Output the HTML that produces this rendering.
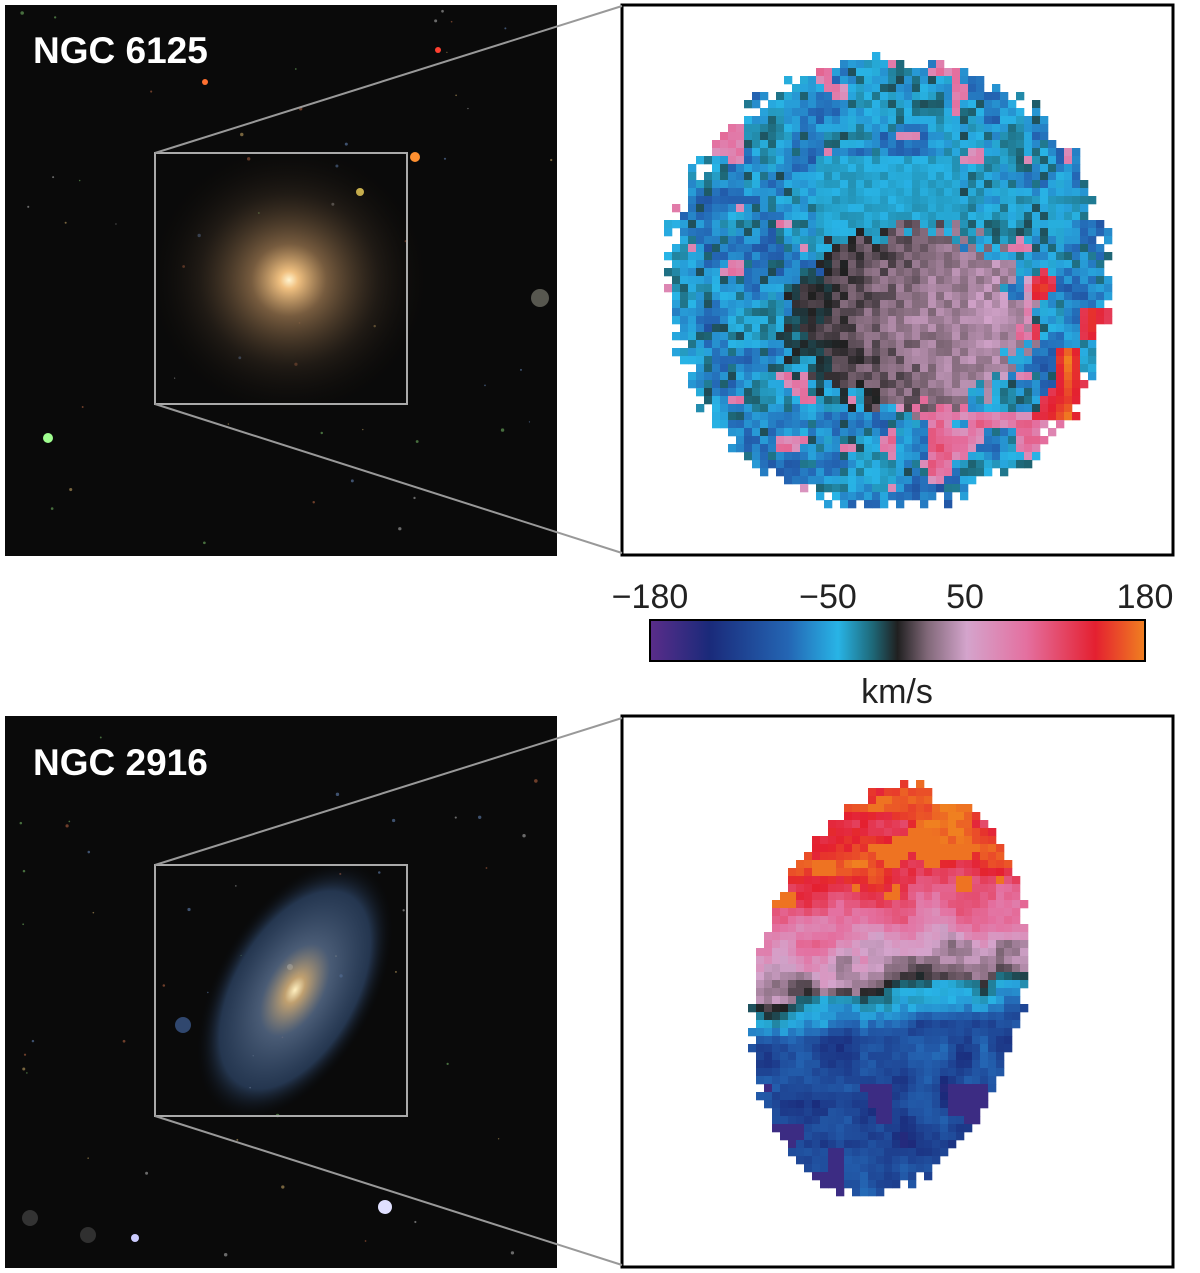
<!DOCTYPE html>
<html><head><meta charset="utf-8"><style>
html,body{margin:0;padding:0;background:#fff;width:1200px;height:1273px;overflow:hidden}
svg{display:block}
text{font-family:"Liberation Sans",sans-serif}
</style></head><body>
<svg id="s" width="1200" height="1273" xmlns="http://www.w3.org/2000/svg">
<defs>
<radialGradient id="ell" cx="0.5" cy="0.5" r="0.5">
<stop offset="0" stop-color="#fff4d0"/><stop offset="0.06" stop-color="#f0c080"/>
<stop offset="0.25" stop-color="#8a6a48" stop-opacity="0.85"/><stop offset="0.6" stop-color="#3a2e22" stop-opacity="0.45"/>
<stop offset="1" stop-color="#000" stop-opacity="0"/></radialGradient>
<radialGradient id="sp" cx="0.5" cy="0.5" r="0.5">
<stop offset="0" stop-color="#fff0c0"/><stop offset="0.1" stop-color="#c0a070"/>
<stop offset="0.35" stop-color="#5a7090" stop-opacity="0.8"/><stop offset="0.75" stop-color="#3a5a88" stop-opacity="0.55"/>
<stop offset="1" stop-color="#000" stop-opacity="0"/></radialGradient>
<linearGradient id="cb" x1="0" x2="1">
<stop offset="0" stop-color="#5a2d8a"/><stop offset="0.12" stop-color="#1a2a7a"/>
<stop offset="0.28" stop-color="#2466b4"/><stop offset="0.38" stop-color="#28b4e6"/>
<stop offset="0.45" stop-color="#1e6878"/><stop offset="0.5" stop-color="#202020"/>
<stop offset="0.56" stop-color="#806878"/><stop offset="0.64" stop-color="#d4a4cc"/>
<stop offset="0.76" stop-color="#e470a0"/><stop offset="0.9" stop-color="#e42030"/>
<stop offset="1" stop-color="#f08020"/></linearGradient>
</defs>
<rect x="5" y="5" width="552" height="551" fill="#0a0a0a"/>
<rect x="5" y="716" width="552" height="552" fill="#0a0a0a"/>
<g id="stars"></g>
<ellipse cx="289" cy="280" rx="150" ry="145" fill="url(#ell)"/>
<g transform="rotate(-60 295 990)"><ellipse cx="295" cy="990" rx="145" ry="80" fill="url(#sp)"/></g>
<rect x="622" y="5" width="551" height="550" fill="#fff" stroke="#000" stroke-width="3"/>
<rect x="622" y="716" width="551" height="551" fill="#fff" stroke="#000" stroke-width="3"/>
<g id="m1"></g><g id="m2"></g>
<rect x="155" y="153" width="252" height="251" fill="none" stroke="#aaa" stroke-width="2"/>
<rect x="155" y="865" width="252" height="251" fill="none" stroke="#aaa" stroke-width="2"/>
<g stroke="#999" stroke-width="2">
<line x1="155" y1="153" x2="622" y2="6"/><line x1="155" y1="404" x2="622" y2="553"/>
<line x1="155" y1="865" x2="622" y2="718"/><line x1="155" y1="1116" x2="622" y2="1265"/></g>
<text x="33" y="63" font-size="37" font-weight="bold" fill="#fff">NGC 6125</text>
<text x="33" y="775" font-size="37" font-weight="bold" fill="#fff">NGC 2916</text>
<rect x="650" y="620" width="495" height="41" fill="url(#cb)" stroke="#000" stroke-width="2"/>
<g font-size="34" fill="#222" text-anchor="middle">
<text x="650" y="608">−180</text><text x="828" y="608">−50</text>
<text x="965" y="608">50</text><text x="1145" y="608">180</text>
<text x="897" y="703">km/s</text></g>
</svg>
<script>
var seed=7;function r(){seed=(seed*16807)%2147483647;return seed/2147483647}
var st=[[0,[90,45,138]],[0.12,[26,42,122]],[0.28,[36,102,180]],[0.38,[40,180,230]],[0.45,[30,104,120]],[0.5,[32,32,32]],[0.56,[128,104,120]],[0.64,[212,164,204]],[0.76,[228,112,160]],[0.9,[228,32,48]],[1,[240,128,32]]];
function col(v){var t=Math.max(0,Math.min(1,(v+180)/360));for(var i=1;i<st.length;i++){if(t<=st[i][0]){var a=st[i-1],b=st[i],f=(t-a[0])/(b[0]-a[0]);return 'rgb('+[0,1,2].map(function(k){return Math.round(a[1][k]+(b[1][k]-a[1][k])*f)}).join(',')+')'}}return 'rgb(240,128,32)'}
function grid(n){var g=[];for(var i=0;i<n*n;i++)g.push(r()*2-1);return g}
function noise(g,n,x,y,sc){x/=sc;y/=sc;var i=Math.floor(x),j=Math.floor(y),fx=x-i,fy=y-j;function G(a,b){return g[((b%n+n)%n)*n+((a%n+n)%n)]}
var a=G(i,j)+(G(i+1,j)-G(i,j))*fx,b=G(i,j+1)+(G(i+1,j+1)-G(i,j+1))*fx;return a+(b-a)*fy}
var NS='http://www.w3.org/2000/svg';
function rect(g,x,y,w,h,c){var e=document.createElementNS(NS,'rect');e.setAttribute('x',x);e.setAttribute('y',y);e.setAttribute('width',w+0.3);e.setAttribute('height',h+0.3);e.setAttribute('fill',c);g.appendChild(e)}
var s=8,g1=document.getElementById('m1'),N1=grid(40),N2=grid(40);
for(var y=52;y<502;y+=s)for(var x=664;x<1108;x+=s){var dx=(x-885)/220,dy=(y-278)/225,d=Math.sqrt(dx*dx+dy*dy);if(d>1+(r()-0.5)*0.08)continue;
var n1=noise(N1,40,x,y,22),n2=noise(N2,40,x+300,y,22)+((x>860&&y>340)?0.25:0)+((x<760&&y>330)?0.15:0);
var v=-55+n1*35+(r()-0.5)*30;
if(r()<0.12)v=-25+r()*15;
if(n2>0.5)v=50+n2*50+(r()-0.5)*30;
if(x>1030&&y>220&&y<420&&n2>0.25)v=110+n2*60;
var rc=Math.sqrt(Math.pow((x-905)/120,2)+Math.pow((y-315)/90,2));
if(rc<1+(r()-0.5)*0.3){v=10+(1-rc)*15+(x-870)*0.2+(r()-0.5)*25;}
else if(x>810&&x<960&&y>150&&y<260)v=-38+(r()-0.5)*14;
rect(g1,x,y,s,s,col(v))}
var g2=document.getElementById('m2'),N3=grid(40);
for(var y=780;y<1190;y+=s)for(var x=748;x<1022;x+=s){
var yy=y-985,xx=x-885,xr=xx+yy*0.12;var d=Math.pow(xr/135,2)+Math.pow(yy/205,2);if(d>1+(r()-0.5)*0.1)continue;
if(y<800&&(x<790||x>930))continue;
var b=985-(x-885)*0.12;var dyy=y-b;var v;
if(dyy<0)v=Math.min(150,15-dyy*1.1);else v=Math.max(-108,-10-dyy*2.2);
v+=noise(N3,40,x,y,20)*30+(r()-0.5)*20;
if(dyy<-90&&noise(N3,40,x+100,y,18)>0.35)v=175;
if(y>1080&&noise(N3,40,x+200,y,24)>0.3)v=-160;
rect(g2,x,y,s,s,col(v))}
var gs=document.getElementById('stars');
function star(x,y,rr,c,o){var e=document.createElementNS(NS,'circle');e.setAttribute('cx',x);e.setAttribute('cy',y);e.setAttribute('r',rr);e.setAttribute('fill',c);e.setAttribute('opacity',o);gs.appendChild(e)}
var cs=['#c0a060','#6080b0','#b06040','#aaa','#70b060'];
for(var i=0;i<50;i++){star(8+r()*545,8+r()*545,0.6+r()*1.2,cs[i%5],0.6);star(8+r()*545,720+r()*545,0.6+r()*1.2,cs[i%5],0.6)}
star(415,157,5,'#ff9030',1);star(360,192,4,'#ffe060',1);star(48,438,5,'#a0ff90',1);star(540,298,9,'#6a6a60',0.8);star(385,1207,7,'#e0e0ff',1);star(290,967,3,'#ffe',1);star(438,50,3,'#ff4030',1);star(205,82,3,'#ff7030',1);star(30,1218,8,'#444',0.7);star(88,1235,8,'#555',0.5);star(135,1238,4,'#ccf',1);star(183,1025,8,'#4a70b0',0.6);
</script>
</body></html>
